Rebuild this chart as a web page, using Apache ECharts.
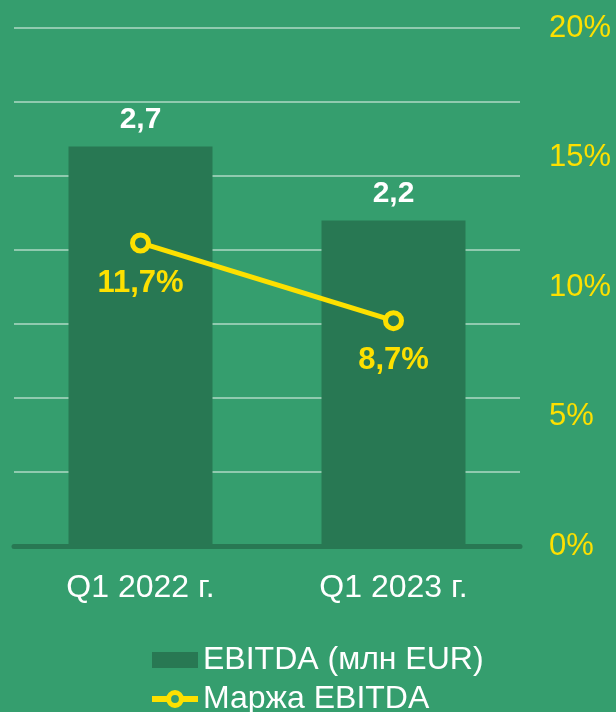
<!DOCTYPE html>
<html><head><meta charset="utf-8">
<script src="https://cdn.jsdelivr.net/npm/echarts@6/dist/echarts.min.js"></script>
<style>html,body{margin:0;padding:0;background:#359e6e}#c{width:616px;height:712px}</style>
</head><body><div id="c"></div>
<script>
const categories = ['Q1 2022 г.', 'Q1 2023 г.'];
const ebitda = [2.7, 2.2];
const margin = [11.7, 8.7];
const rightTicks = [0, 5, 10, 15, 20];
const fmt = v => String(v).replace('.', ',');
const chart = echarts.init(document.getElementById('c'));
const F = 'Liberation Sans, Arial, sans-serif';
chart.setOption({
  backgroundColor: '#359e6e',
  animation: false,
  grid: {left: 14, right: 96, top: 28, bottom: 166},
  legend: {
    orient: 'vertical', left: 149, top: 644, height: 200, padding: 0,
    itemWidth: 46, itemHeight: 16, itemGap: 7,
    textStyle: {color: '#ffffff', fontSize: 32, fontFamily: F},
    lineStyle: {width: 6},
    data: [{name: 'EBITDA (млн EUR)', icon: 'rect'},
           {name: 'Маржа EBITDA', itemStyle: {borderWidth: 5, color: '#359e6e', borderColor: '#fde000'}}]
  },
  xAxis: {
    type: 'category', data: categories,
    axisLine: {lineStyle: {color: '#287853', width: 5}},
    axisTick: {show: false},
    axisLabel: {color: '#ffffff', fontSize: 32, fontFamily: F, margin: 26}
  },
  yAxis: [{
    type: 'value', min: 0, max: 3.5, interval: 0.5,
    axisLabel: {show: false}, axisLine: {show: false}, axisTick: {show: false},
    splitLine: {lineStyle: {color: 'rgba(255,255,255,0.45)', width: 2}}
  }, {
    type: 'value', min: 0, max: 20, interval: 5, position: 'right',
    axisLine: {show: false}, axisTick: {show: false}, splitLine: {show: false},
    axisLabel: {color: '#fde000', fontSize: 31, fontFamily: F, margin: 29,
      formatter: v => rightTicks.includes(v) ? v + '%' : ''}
  }],
  series: [{
    name: 'EBITDA (млн EUR)', type: 'bar', data: ebitda, barWidth: 144,
    itemStyle: {color: '#287853'},
    label: {show: true, position: 'top', distance: 12, color: '#ffffff', fontSize: 30,
      fontWeight: 'bold', fontFamily: F, formatter: p => fmt(p.value)}
  }, {
    name: 'Маржа EBITDA', type: 'line', yAxisIndex: 1, data: margin,
    symbol: 'circle', symbolSize: 16,
    lineStyle: {color: '#fde000', width: 5},
    itemStyle: {color: '#287853', borderColor: '#fde000', borderWidth: 5},
    label: {show: true, position: 'bottom', distance: 14, color: '#fde000', fontSize: 31,
      fontWeight: 'bold', fontFamily: F, formatter: p => fmt(p.value) + '%'}
  }]
});
</script></body></html>
